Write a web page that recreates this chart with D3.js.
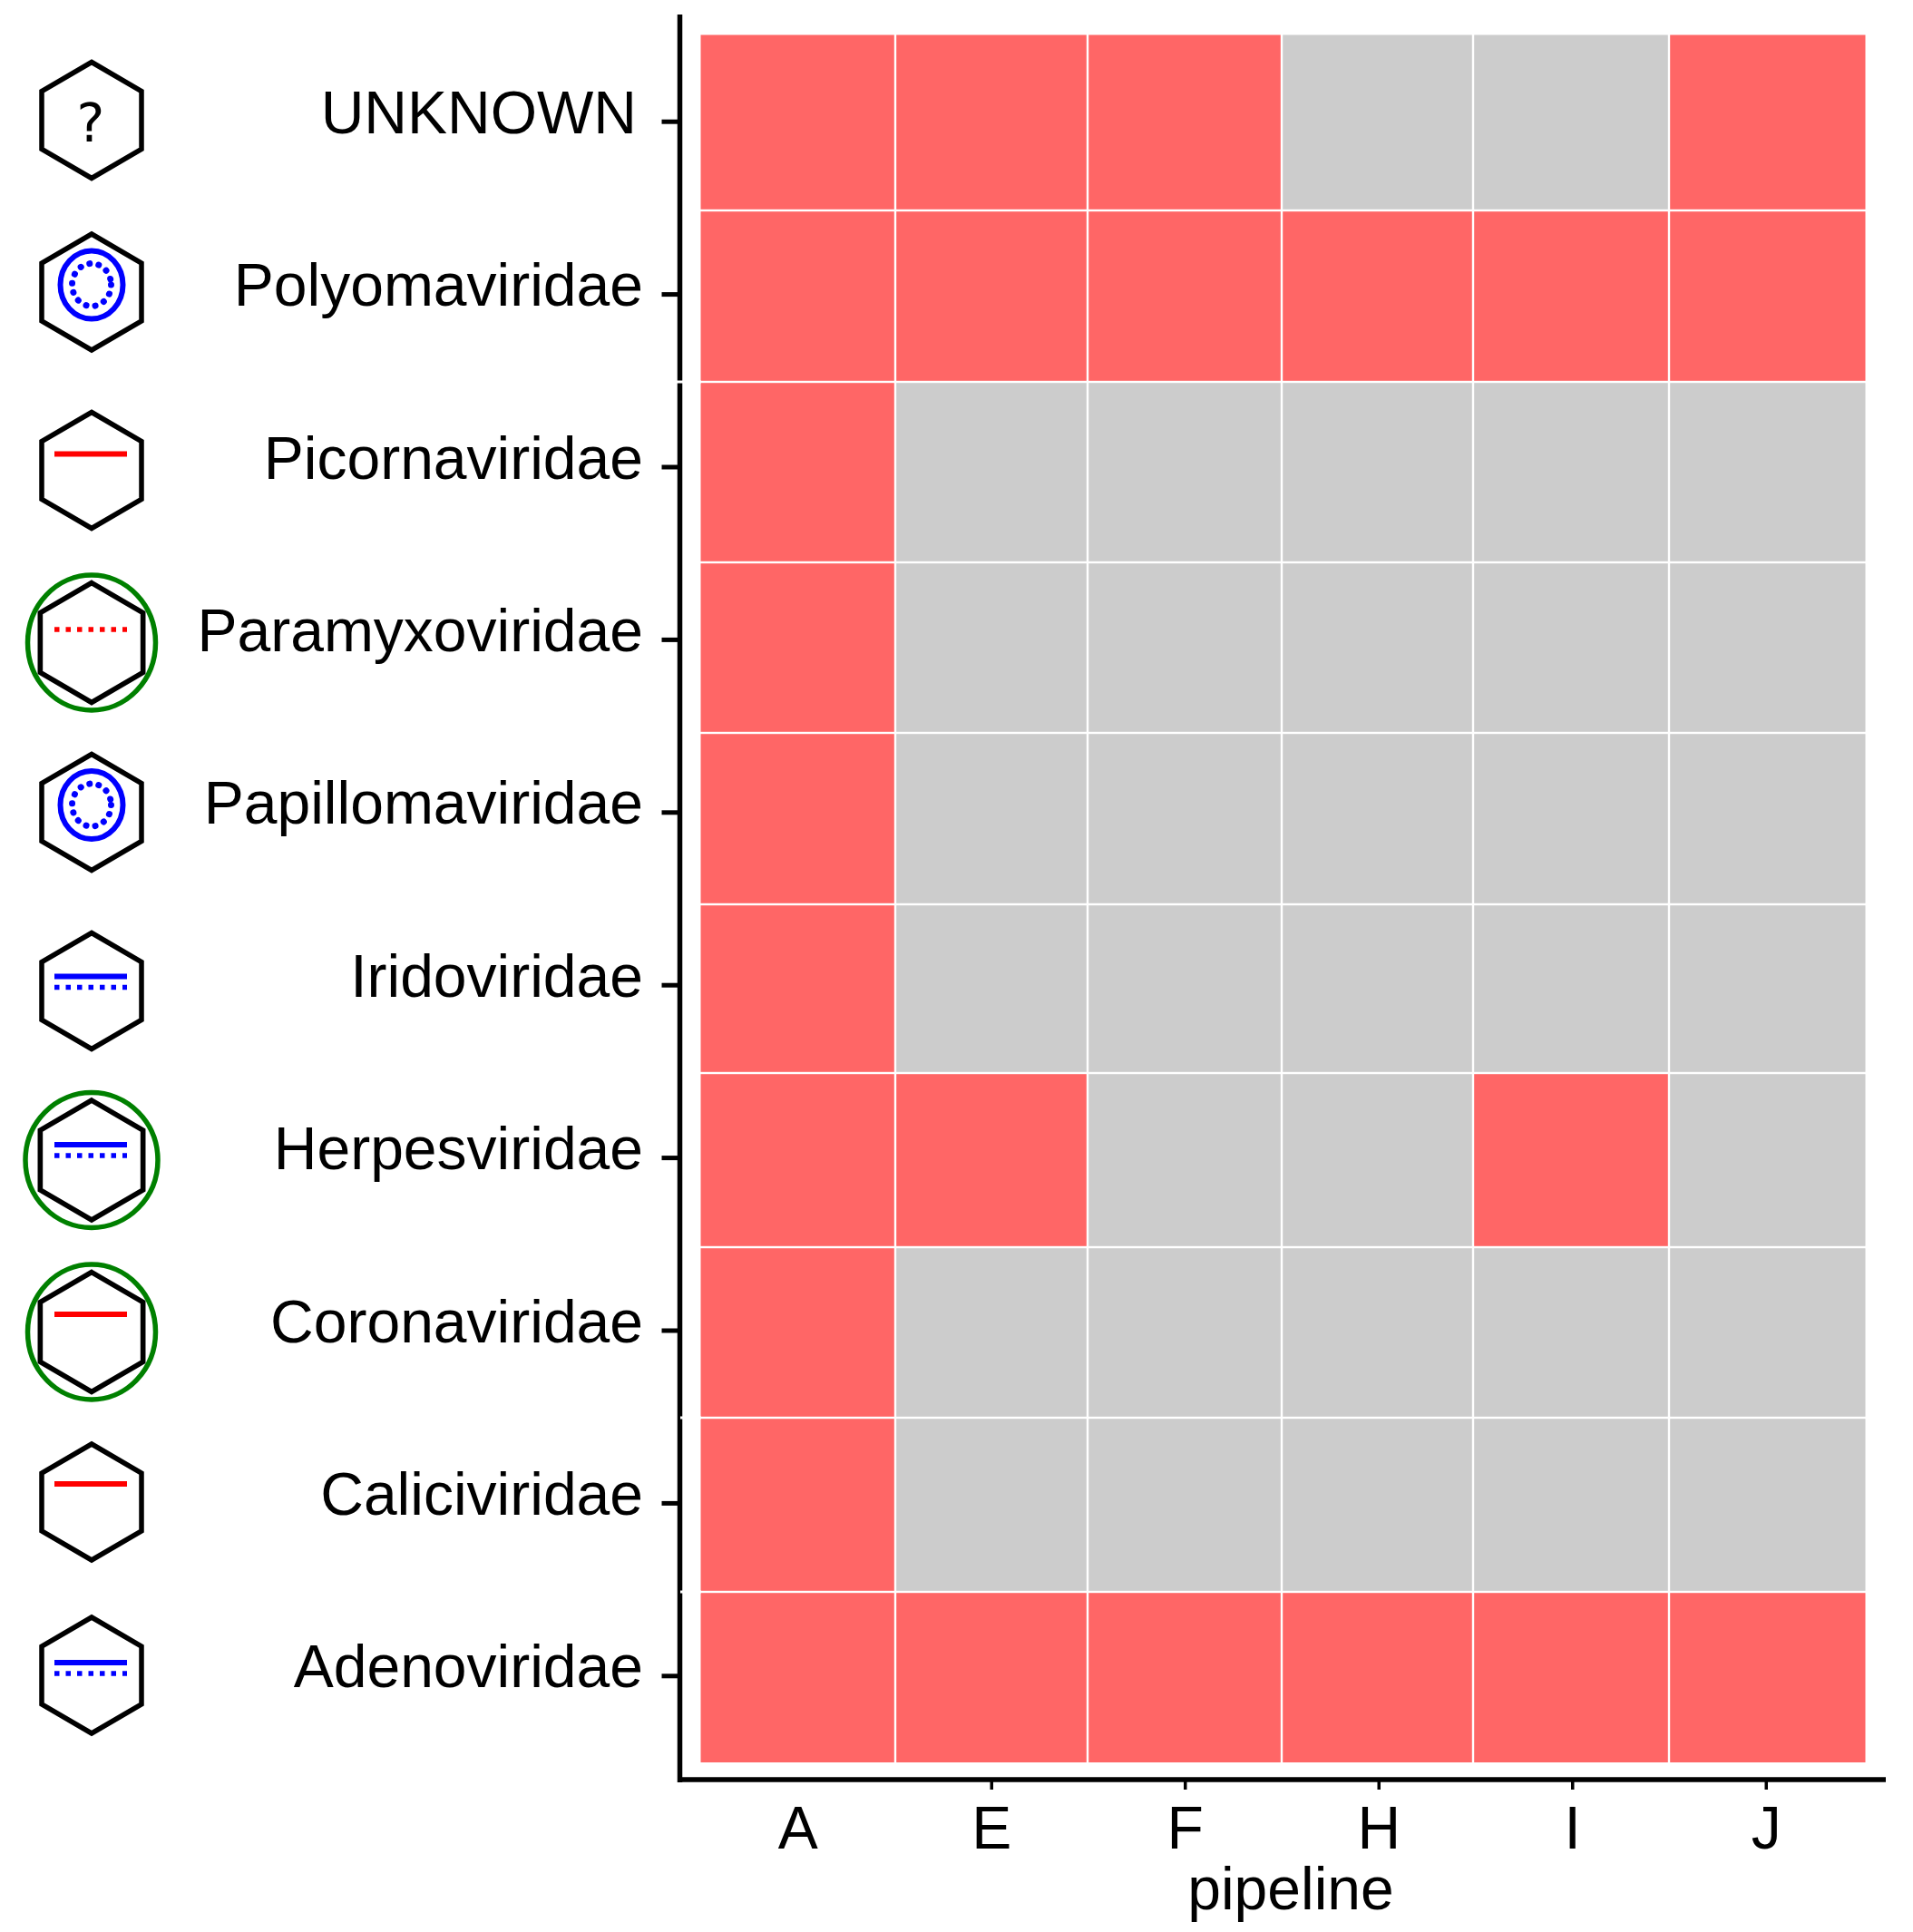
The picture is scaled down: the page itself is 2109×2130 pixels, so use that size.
<!DOCTYPE html>
<html>
<head>
<meta charset="utf-8">
<script src="https://cdn.jsdelivr.net/npm/d3@7"></script>
<style>
  html, body { margin: 0; padding: 0; background: #fff; }
  text { font-family: "Liberation Sans", Arial, sans-serif; fill: #000; }
</style>
</head>
<body>
<div class="draw"></div>
<script>
const families = ["UNKNOWN", "Polyomaviridae", "Picornaviridae", "Paramyxoviridae", "Papillomaviridae",
  "Iridoviridae", "Herpesviridae", "Coronaviridae", "Caliciviridae", "Adenoviridae"];
const pipelines = ["A", "E", "F", "H", "I", "J"];

// 1 = detected, 0 = not detected, same order as families
const pipelineA = [1, 1, 1, 1, 1, 1, 1, 1, 1, 1];
const pipelineE = [1, 1, 0, 0, 0, 0, 1, 0, 0, 1];
const pipelineF = [1, 1, 0, 0, 0, 0, 0, 0, 0, 1];
const pipelineH = [0, 1, 0, 0, 0, 0, 0, 0, 0, 1];
const pipelineI = [0, 1, 0, 0, 0, 0, 1, 0, 0, 1];
const pipelineJ = [1, 1, 0, 0, 0, 0, 0, 0, 0, 1];
const detected = [pipelineA, pipelineE, pipelineF, pipelineH, pipelineI, pipelineJ];

// icon kinds, same order as families
const genomes = ["unknown", "circle", "ss", "ssDotted", "circle", "ds", "ds", "ss", "ss", "ds"];
const enveloped = [0, 0, 0, 1, 0, 0, 1, 1, 0, 0];

const svg = d3.select(".draw")
  .append("svg")
  .attr("width", 2109)
  .attr("height", 2130)
  .style("display", "block");

// scales
const yBand = d3.scaleBand().domain(families).range([39, 1943]);
const xBand = d3.scaleBand().domain(pipelines).range([773, 2054]);

// the tiles of the picture are not quite even, so edges go through piecewise scales
const rowEdge = d3.scaleLinear()
  .domain(d3.range(11))
  .range([38.5, 232, 421, 620, 808, 997, 1183, 1375, 1563, 1755, 1943]);
const colEdge = d3.scaleLinear()
  .domain(d3.range(7))
  .range([772.5, 987, 1199, 1413, 1624, 1840, 2056.5]);
const fill = d3.scaleOrdinal().domain([0, 1]).range(["#cccccc", "#ff6666"]);
const iconY = d3.scaleOrdinal()
  .domain(families)
  .range([132.5, 322, 518.5, 708.5, 895.5, 1092.5, 1279, 1468.5, 1656, 1847]);
const strandY = d3.scaleOrdinal()
  .domain(families)
  .range([0, 0, -18, -14.5, 0, -16, -17, -19.5, -20, -14]);

// tiles
const cells = pipelines.flatMap((p, c) => families.map((f, r) => ({ c, r, v: detected[c][r] })));
const gap = 1.2;
svg.append("g").selectAll("rect")
  .data(cells)
  .join("rect")
  .attr("x", d => colEdge(d.c) + (d.c ? gap : 0))
  .attr("y", d => rowEdge(d.r) + (d.r ? gap : 0))
  .attr("width", d => colEdge(d.c + 1) - colEdge(d.c) - (d.c ? gap : 0) - (d.c < 5 ? gap : 0))
  .attr("height", d => rowEdge(d.r + 1) - rowEdge(d.r) - (d.r ? gap : 0) - (d.r < 9 ? gap : 0))
  .attr("fill", d => fill(d.v));

// axes
const yAxis = d3.axisLeft(yBand).tickSize(20).tickPadding(20.5);
const xAxis = d3.axisBottom(xBand).tickSize(10).tickPadding(17);

const yAxisGroup = svg.append("g").attr("transform", "translate(749.5, 0)").call(yAxis);
const xAxisGroup = svg.append("g").attr("transform", "translate(0, 1963)").call(xAxis);
yAxisGroup.select(".domain").remove();
xAxisGroup.select(".domain").remove();

yAxisGroup.selectAll(".tick line").attr("stroke", "#000").attr("stroke-width", 5);
yAxisGroup.selectAll(".tick text")
  .attr("font-size", 66)
  .attr("dy", 12.5)
  .attr("dx", d => d === "UNKNOWN" ? -7 : 0)
  .style("font-family", '"Liberation Sans", Arial, sans-serif');

xAxisGroup.selectAll(".tick line").attr("stroke", "#000").attr("stroke-width", 3.5)
  .filter(d => d === "A").remove();
xAxisGroup.selectAll(".tick text")
  .attr("font-size", 66)
  .attr("y", 75)
  .attr("dy", 0)
  .style("font-family", '"Liberation Sans", Arial, sans-serif');

svg.append("line").attr("x1", 749.5).attr("x2", 749.5).attr("y1", 16).attr("y2", 1965)
  .attr("stroke", "#000").attr("stroke-width", 5.5);
svg.append("line").attr("x1", 747).attr("x2", 2079).attr("y1", 1962).attr("y2", 1962)
  .attr("stroke", "#000").attr("stroke-width", 5.5);

// white seams that run over the y axis line
svg.append("g").selectAll("line")
  .data([2, 8, 9])
  .join("line")
  .attr("x1", d => d === 2 ? 745 : 750)
  .attr("x2", 773)
  .attr("y1", d => rowEdge(d))
  .attr("y2", d => rowEdge(d))
  .attr("stroke", "#fff")
  .attr("stroke-width", 3);

svg.append("text")
  .attr("x", 1423)
  .attr("y", 2105)
  .attr("text-anchor", "middle")
  .attr("font-size", 66)
  .text("pipeline");

// virus icons
const hexPoints = [[0, -64], [55, -32], [55, 32], [0, 64], [-55, 32], [-55, -32]];
const hexLine = d3.line().curve(d3.curveLinearClosed);
const icons = svg.append("g").selectAll("g")
  .data(families)
  .join("g")
  .attr("transform", d => `translate(101, ${iconY(d)})`);

icons.append("path")
  .attr("d", hexLine(hexPoints))
  .attr("transform", (d, i) => enveloped[i] ? "scale(1.03)" : null)
  .attr("fill", "none")
  .attr("stroke", "#000")
  .attr("stroke-width", 5.5)
  .attr("stroke-linejoin", "miter");

icons.filter((d, i) => enveloped[i])
  .append("ellipse")
  .attr("rx", d => d === "Herpesviridae" ? 73 : 70.5)
  .attr("ry", 74.5)
  .attr("fill", "none")
  .attr("stroke", "#008000")
  .attr("stroke-width", 5.5);

icons.filter((d, i) => genomes[i] === "unknown")
  .append("text")
  .attr("x", -1)
  .attr("y", 23.5)
  .attr("text-anchor", "middle")
  .attr("font-size", 58)
  .style("font-family", '"DejaVu Sans", sans-serif')
  .text("?");

const strand = (sel, cls, color, shift, dotted) => {
  sel.filter((d, i) => genomes[i] === cls)
    .append("line")
    .attr("x1", -41)
    .attr("x2", 39)
    .attr("y1", d => strandY(d) + shift)
    .attr("y2", d => strandY(d) + shift)
    .attr("stroke", color)
    .attr("stroke-width", dotted ? 5.5 : 6)
    .attr("stroke-dasharray", dotted ? "5.5 7" : null);
};
strand(icons, "ss", "#ff0000", 0, false);
strand(icons, "ssDotted", "#ff0000", 0, true);
strand(icons, "ds", "#0000ff", 0, false);
strand(icons, "ds", "#0000ff", 12, true);

const rings = icons.filter((d, i) => genomes[i] === "circle");
rings.append("ellipse")
  .attr("cy", -8)
  .attr("rx", 34.5)
  .attr("ry", 37.5)
  .attr("fill", "none")
  .attr("stroke", "#0000ff")
  .attr("stroke-width", 6);
rings.append("ellipse")
  .attr("cy", -8)
  .attr("rx", 21.5)
  .attr("ry", 23.5)
  .attr("fill", "none")
  .attr("stroke", "#0000ff")
  .attr("stroke-width", 7)
  .attr("stroke-linecap", "round")
  .attr("stroke-dasharray", "0.1 10.2");
</script>
</body>
</html>
